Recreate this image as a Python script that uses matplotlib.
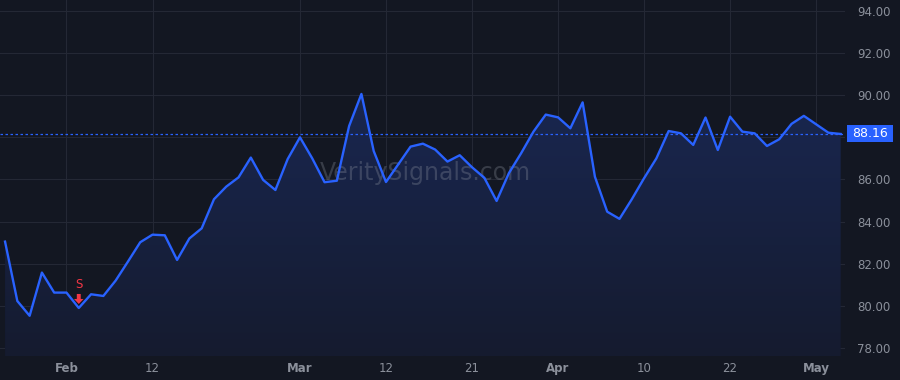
import numpy as np
import matplotlib
matplotlib.use("Agg")
import matplotlib.pyplot as plt
from matplotlib.colors import LinearSegmentedColormap
from matplotlib.patches import Rectangle, FancyArrow

# ── Data ──────────────────────────────────────────────────────
prices = [
    83.05, 80.23, 79.53, 81.58, 80.63, 80.63, 79.90, 80.55, 80.47, 81.20,
    82.10, 83.02, 83.38, 83.35, 82.18, 83.20, 83.68, 85.06, 85.66, 86.10,
    87.04, 85.98, 85.50, 86.97, 88.00, 87.00, 85.87, 85.94, 88.54, 90.06,
    87.35, 85.88, 86.72, 87.56, 87.70, 87.42, 86.85, 87.15, 86.58, 86.08,
    84.98, 86.30, 87.25, 88.27, 89.08, 88.95, 88.43, 89.66, 86.13, 84.47,
    84.13, 85.06, 86.06, 87.00, 88.30, 88.19, 87.64, 88.94, 87.40, 88.98,
    88.27, 88.19, 87.59, 87.91, 88.64, 89.02, 88.62, 88.22, 88.16,
]
tick_pos = [5, 12, 24, 31, 38, 45, 52, 59, 66]
tick_labels = ["Feb", "12", "Mar", "12", "21", "Apr", "10", "22", "May"]
bold_labels = ["Feb", "Mar", "Apr", "May"]
y_ticks = [78, 80, 82, 84, 86, 88, 90, 92, 94]
last_price = 88.16
signal_idx = 6

# ── Style ─────────────────────────────────────────────────────
bg = "#131722"
grid_c = "#242835"
line_c = "#2962ff"
text_c = "#8b909b"
red = "#f23645"

fig = plt.figure(figsize=(9, 3.8), dpi=100, facecolor=bg)
ax = fig.add_axes([0, 24 / 380, 845 / 900, 356 / 380], facecolor=bg)

x = np.arange(len(prices))
y = np.array(prices)
ymin, ymax = 77.62, 94.52
ax.set_xlim(-0.41, 68.35)
ax.set_ylim(ymin, ymax)

# gradient fill under the line
cmap = LinearSegmentedColormap.from_list("fill", ["#151b2f", "#1b2b5c"])
grad = np.linspace(0, 1, 256).reshape(-1, 1)
img = ax.imshow(grad, cmap=cmap, aspect="auto", origin="lower",
                extent=[x[0], x[-1], ymin, ymax], zorder=1)
poly = ax.fill_between(x, y, ymin, color="none", lw=0)
img.set_clip_path(poly.get_paths()[0], transform=ax.transData)

ax.plot(x, y, color=line_c, lw=1.7, zorder=3, solid_joinstyle="round")
ax.axhline(last_price, color=line_c, lw=0.9, ls=(0, (2, 2)), zorder=2)

# grid
for t in tick_pos:
    ax.axvline(t, color=grid_c, lw=0.8, zorder=0)
for v in y_ticks:
    ax.axhline(v, color=grid_c, lw=0.8, zorder=0)

# watermark
ax.text(425 / 845, 1 - 173 / 356, "VeritySignals.com", transform=ax.transAxes,
        ha="center", va="center", fontsize=17, color="#9aa0ab", alpha=0.28,
        zorder=2)

# signal marker: red down arrow with "S" above the low
py = 21.06  # pixels per price unit
tip = y[signal_idx] + 4 / py
ax.add_patch(FancyArrow(signal_idx, tip + 10 / py, 0, -10 / py,
                        width=0.32, head_width=0.78, head_length=5 / py,
                        length_includes_head=True, color=red, lw=0, zorder=4))
ax.text(signal_idx, tip + 13 / py, "S", color=red, fontsize=8.5,
        ha="center", va="bottom", zorder=4)

for s in ax.spines.values():
    s.set_visible(False)

ax.set_xticks(tick_pos)
ax.set_xticklabels(tick_labels)
for lab in ax.get_xticklabels():
    lab.set_fontweight("bold" if lab.get_text() in bold_labels else "normal")
ax.tick_params(axis="x", length=0, colors=text_c, labelsize=8.5, pad=4)

# y labels on the right; 88.00 is covered by the last-price box
ax.yaxis.tick_right()
ax.set_yticks(y_ticks)
ax.set_yticklabels(["" if v == 88 else f"{v:.2f}" for v in y_ticks])
ax.tick_params(axis="y", length=0, colors=text_c, labelsize=8.5, pad=9)

# last-price label box
yc = (24 + (last_price - ymin) / (ymax - ymin) * 356) / 380
fig.patches.append(Rectangle((847 / 900, yc - 8.5 / 380), 46 / 900, 17 / 380,
                             transform=fig.transFigure, fc=line_c, ec="none",
                             zorder=5))
fig.text(870 / 900, yc, f"{last_price:.2f}", ha="center", va="center",
         fontsize=9, color="white", zorder=6)

fig.savefig("out.png", dpi=100, facecolor=bg)
